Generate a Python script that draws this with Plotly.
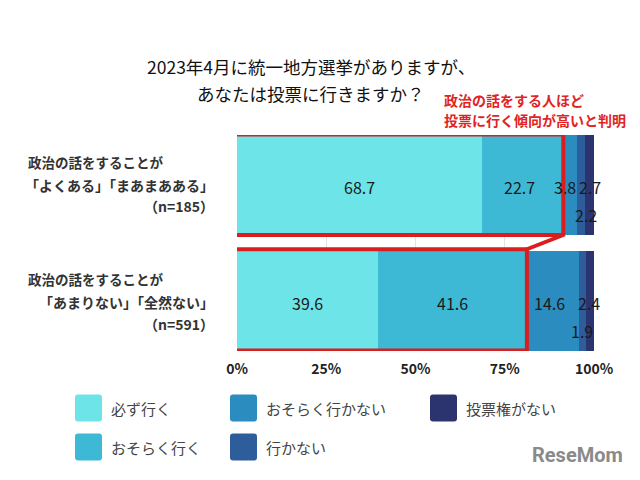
import plotly.graph_objects as go

categories = ["必ず行く", "おそらく行く", "おそらく行かない", "行かない", "投票権がない"]
colors = ["#6DE4E8", "#3DB9D5", "#2B8CBF", "#2D5E9B", "#2C3470"]
group_lines = [
    ["政治の話をすることが", "「よくある」「まあまあある」", "（n=185）"],
    ["政治の話をすることが", "「あまりない」「全然ない」", "（n=591）"],
]
row1 = [68.7, 22.7, 3.8, 2.2, 2.7]
row2 = [39.6, 41.6, 14.6, 1.9, 2.4]
rows = [row1, row2]
ypos = [1, 0]
tick_vals = [0, 25, 50, 75, 100]
tick_text = ["0%", "25%", "50%", "75%", "100%"]

FONT = "Noto Sans CJK JP"
BAR_W = 0.862
W, H = 640, 480
ML, MR, MT, MB = 237, 46, 135, 129
PW, PH = W - ML - MR, H - MT - MB


def px(x):
    return (x - ML) / PW


def py(y):
    return (H - MB - y) / PH


fig = go.Figure()
for i, cat in enumerate(categories):
    fig.add_trace(go.Bar(
        y=ypos, x=[r[i] for r in rows], name=cat, orientation="h",
        marker=dict(color=colors[i], line=dict(width=0)), width=BAR_W,
        showlegend=False, hoverinfo="x+name",
    ))

tweaks = [
    [(0, -2), (-3, -2), (-5, -2), (5, -30), (0, -2)],
    [(0, -2), (0, -2), (-3, -2), (0, -30), (-1, -2)],
]
annotations = []
for r, (vals, y) in enumerate(zip(rows, ypos)):
    cum = 0
    for i, v in enumerate(vals):
        mid = cum + v / 2
        cum += v
        xs, ys = tweaks[r][i]
        annotations.append(dict(
            x=mid, y=y, xref="x", yref="y", text=f"{v}", showarrow=False,
            xshift=xs, yshift=ys, font=dict(size=16, color="#1a1a1a", family=FONT),
        ))


def pann(x, y, text, size, color, xanchor="left", family=FONT):
    annotations.append(dict(x=px(x), y=py(y), xref="paper", yref="paper", text=text,
                            showarrow=False, xanchor=xanchor, yanchor="middle",
                            font=dict(size=size, color=color, family=family)))


label_y = [[162, 185, 206], [279, 302, 324]]
for r, lines in enumerate(group_lines):
    pann(26, label_y[r][0], f"<b>{lines[0]}</b>", 13.5, "#333")
    pann(216, label_y[r][1], f"<b>{lines[1]}</b>", 14, "#333", xanchor="right")
    pann(216, label_y[r][2], f"<b>{lines[2]}</b>", 14, "#333", xanchor="right")

pann(311, 67, "2023年4月に統一地方選挙がありますが、", 17.5, "#111", xanchor="center")
pann(311, 93, "あなたは投票に行きますか？", 17.5, "#111", xanchor="center")
pann(442, 100, "<b>政治の話をする人ほど</b>", 14, "#E02424")
pann(442, 120, "<b>投票に行く傾向が高いと判明</b>", 14, "#E02424")

leg_pos = [(75, 408), (75, 447), (230, 408), (230, 447), (430, 408)]
shapes = []
R = 3
for i, cat in enumerate(categories):
    lx, ly = leg_pos[i]
    x0, x1, y0, y1 = lx, lx + 27, ly - 13.5, ly + 13.5
    X = px
    Y = py
    path = (f"M {X(x0+R)},{Y(y0)} L {X(x1-R)},{Y(y0)} Q {X(x1)},{Y(y0)} {X(x1)},{Y(y0+R)} "
            f"L {X(x1)},{Y(y1-R)} Q {X(x1)},{Y(y1)} {X(x1-R)},{Y(y1)} "
            f"L {X(x0+R)},{Y(y1)} Q {X(x0)},{Y(y1)} {X(x0)},{Y(y1-R)} "
            f"L {X(x0)},{Y(y0+R)} Q {X(x0)},{Y(y0)} {X(x0+R)},{Y(y0)} Z")
    shapes.append(dict(type="path", xref="paper", yref="paper", path=path,
                       fillcolor=colors[i], line=dict(width=0)))
    pann(lx + 34, ly, cat, 15, "#444")

pann(625, 455, "<b>ReseMom</b>", 20, "#8a8a8a", xanchor="right", family="Roboto")

hi1 = row1[0] + row1[1]
hi2 = row2[0] + row2[1]
top = 1 + BAR_W / 2 + 0.005
b1 = 1 - BAR_W / 2
t2 = BAR_W / 2 + 0.015
bot = -BAR_W / 2 + 0.005
xl = -0.6
red = "#D81E1E"
shapes.append(dict(type="path", xref="x", yref="y",
                   path=f"M {xl},{top} L {hi1},{top} L {hi1},{b1} L {hi2},{t2} L {hi2},{bot} L {xl},{bot} Z",
                   line=dict(color=red, width=4), fillcolor="rgba(0,0,0,0)"))
shapes.append(dict(type="line", xref="x", yref="y", x0=xl, x1=hi1, y0=b1, y1=b1, line=dict(color=red, width=4)))
shapes.append(dict(type="line", xref="x", yref="y", x0=xl, x1=hi2, y0=t2, y1=t2, line=dict(color=red, width=4)))

fig.update_layout(
    barmode="stack", width=W, height=H,
    margin=dict(l=ML, r=MR, t=MT, b=MB),
    paper_bgcolor="white", plot_bgcolor="white",
    annotations=annotations, shapes=shapes,
    font=dict(family=FONT),
    xaxis=dict(range=[0, 100], tickvals=tick_vals, ticktext=[f"<b>{t}</b>" for t in tick_text],
               showgrid=True, gridcolor="#e3e3e3", gridwidth=1, zeroline=False,
               tickfont=dict(size=14, color="#222", family=FONT), ticks="", ticklabelstandoff=8),
    yaxis=dict(range=[-BAR_W / 2, 1 + BAR_W / 2], showticklabels=False, showgrid=False, zeroline=False),
)

fig.write_html("out.html", config={"displayModeBar": False},
               post_script="document.body.style.margin='0px';")
